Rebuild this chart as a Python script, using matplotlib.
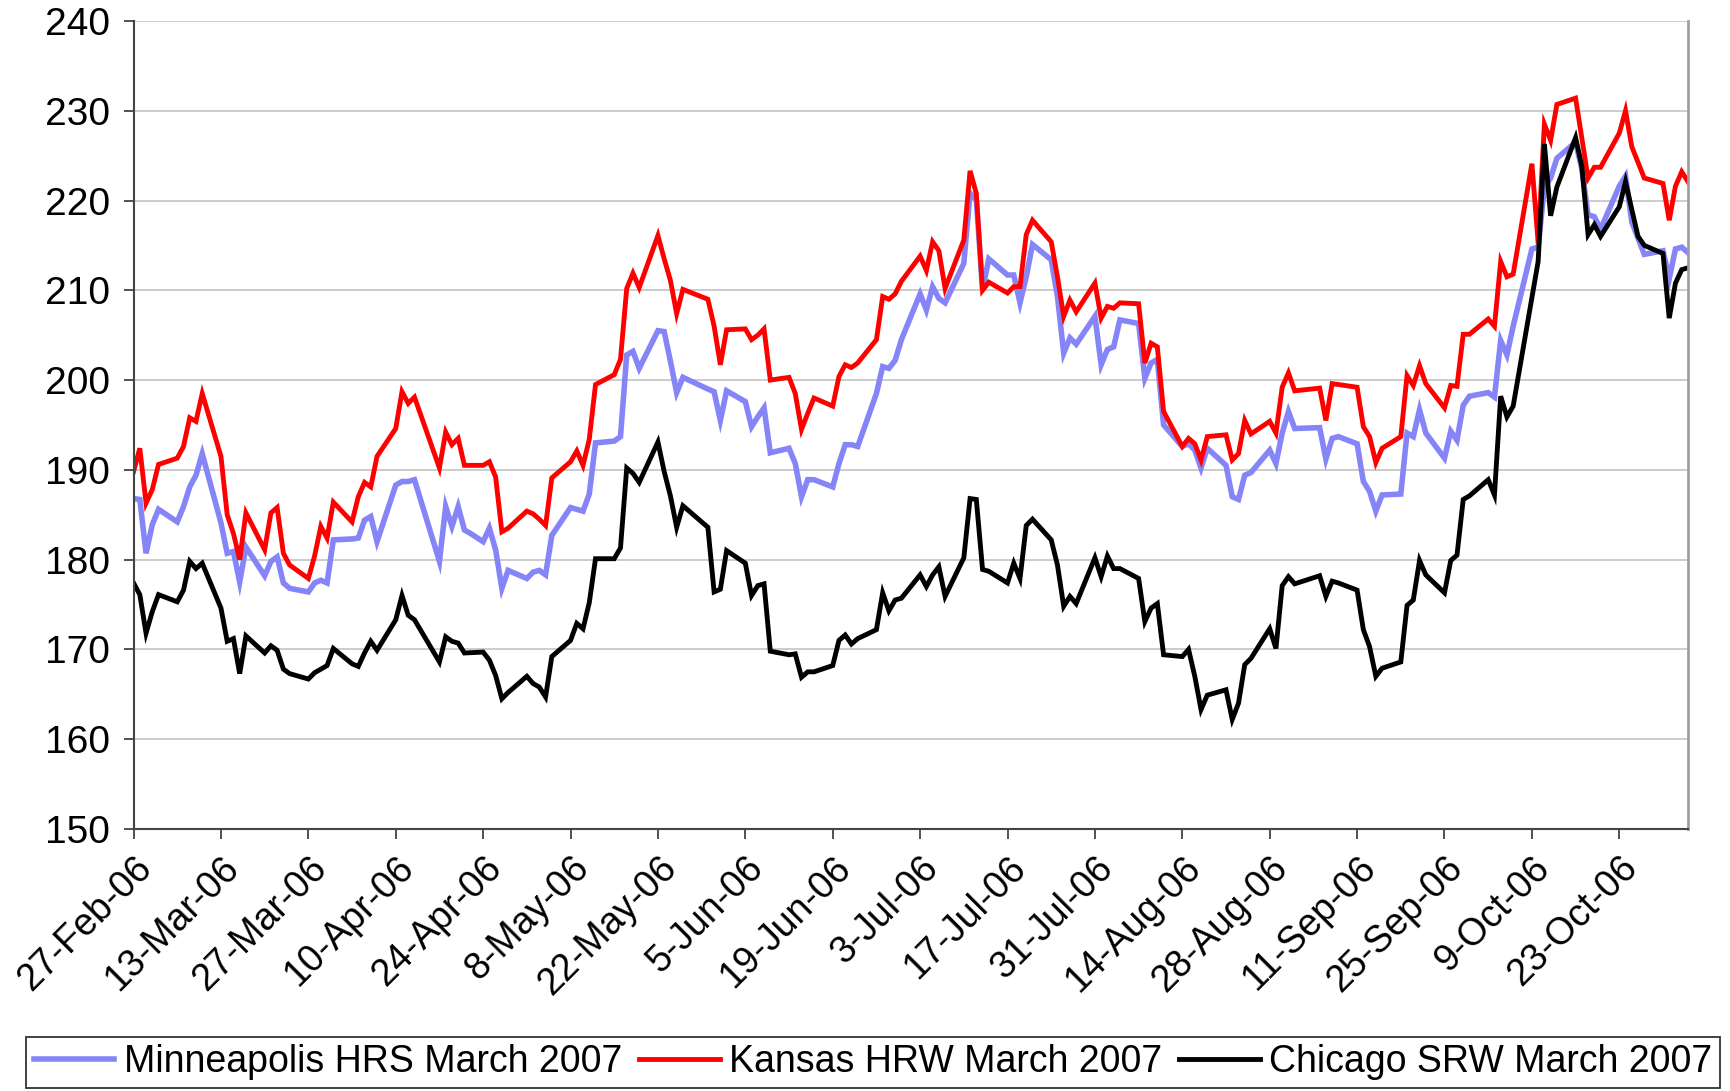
import numpy as np
import matplotlib
matplotlib.use("Agg")
import matplotlib.pyplot as plt
import matplotlib.dates as mdates

plt.rcParams['font.family'] = ['Liberation Sans', 'DejaVu Sans']

start = np.datetime64('2006-02-27')

# Kansas HRW March 2007 (days after 27-Feb-06, value)
ks_days = [0, 1, 2, 3, 4, 7, 8, 9, 10, 11, 14, 15, 16, 17, 18, 21, 22, 23, 24, 25,
           28, 29, 30, 31, 32, 35, 36, 37, 38, 39, 42, 43, 44, 45, 49, 50, 51, 52, 53, 56,
           57, 58, 59, 60, 63, 64, 65, 66, 67, 70, 71, 72, 73, 74, 77, 78, 79, 80, 81, 84,
           85, 86, 87, 88, 92, 93, 94, 95, 98, 99, 100, 101, 102, 105, 106, 107, 108, 109, 112, 113,
           114, 115, 116, 119, 120, 121, 122, 123, 126, 127, 128, 129, 130, 133, 134, 135, 136, 137, 140, 141,
           142, 143, 144, 147, 148, 149, 150, 151, 154, 155, 156, 157, 158, 161, 162, 163, 164, 165, 168, 169,
           170, 171, 172, 175, 176, 177, 178, 179, 182, 183, 184, 185, 186, 190, 191, 192, 196, 197, 198, 199,
           200, 203, 204, 205, 206, 207, 210, 211, 212, 213, 214, 217, 218, 219, 220, 221, 224, 225, 226, 227,
           228, 231, 233, 234, 235, 238, 239, 240, 242, 245, 246, 247, 248, 249]
ks_vals = [189.8, 192.4, 186.3, 187.8, 190.6, 191.3, 192.6, 195.8, 195.4, 198.5, 191.5, 185.0, 182.9, 180.0, 185.2, 181.1, 185.2, 185.8, 180.7, 179.4,
           177.9, 180.4, 183.7, 182.4, 186.4, 184.2, 187.0, 188.6, 188.1, 191.5, 194.6, 198.7, 197.4, 198.1, 190.2, 194.2, 192.8, 193.5, 190.5, 190.5,
           190.9, 189.2, 183.1, 183.5, 185.4, 185.1, 184.5, 183.8, 189.1, 190.9, 192.1, 190.5, 193.4, 199.5, 200.6, 202.3, 210.2, 211.9, 210.3, 216.1,
           213.5, 211.1, 207.4, 210.1, 209.0, 206.0, 201.7, 205.6, 205.7, 204.5, 205.0, 205.7, 200.0, 200.3, 198.5, 194.5, 196.3, 198.0, 197.1, 200.4,
           201.7, 201.4, 201.9, 204.5, 209.3, 209.0, 209.6, 211.0, 213.8, 212.2, 215.4, 214.4, 210.2, 215.6, 223.3, 220.8, 210.0, 210.9, 209.7, 210.4,
           210.4, 216.2, 217.8, 215.4, 211.5, 207.1, 208.9, 207.6, 210.8, 206.9, 208.2, 208.0, 208.6, 208.5, 201.9, 204.1, 203.7, 196.5, 192.6, 193.5,
           192.9, 191.1, 193.7, 193.9, 191.1, 191.8, 195.5, 194.0, 195.4, 194.1, 199.2, 200.8, 198.8, 199.1, 195.5, 199.6, 199.2, 194.8, 193.7, 190.8,
           192.4, 193.7, 200.5, 199.4, 201.6, 199.6, 196.9, 199.4, 199.3, 205.1, 205.1, 206.8, 206.0, 213.2, 211.5, 211.8, 224.1, 215.3, 228.5, 226.7,
           230.7, 231.4, 222.5, 223.7, 223.7, 227.5, 230.0, 226.0, 222.5, 221.9, 217.8, 221.6, 223.2, 222.1]

# Minneapolis HRS March 2007
mn_days = [0, 1, 2, 3, 4, 7, 8, 9, 10, 11, 14, 15, 16, 17, 18, 21, 22, 23, 24, 25,
           28, 29, 30, 31, 32, 35, 36, 37, 38, 39, 42, 43, 44, 45, 49, 50, 51, 52, 53, 54,
           56, 57, 58, 59, 60, 63, 64, 65, 66, 67, 70, 71, 72, 73, 74, 77, 78, 79, 80, 81,
           84, 85, 86, 87, 88, 92, 93, 94, 95, 98, 99, 100, 101, 102, 105, 106, 107, 108, 109, 112,
           113, 114, 115, 116, 119, 120, 121, 122, 123, 126, 127, 128, 129, 130, 133, 134, 135, 136, 137, 140,
           141, 142, 143, 144, 147, 148, 149, 150, 151, 154, 155, 156, 157, 158, 161, 162, 163, 164, 165, 168,
           169, 170, 171, 172, 175, 176, 177, 178, 179, 182, 183, 184, 185, 186, 190, 191, 192, 193, 196, 197,
           198, 199, 200, 203, 204, 205, 206, 207, 210, 211, 212, 213, 214, 217, 218, 219, 220, 221, 224, 225,
           226, 227, 228, 231, 232, 233, 234, 235, 238, 239, 240, 242, 245, 246, 247, 248, 249]
mn_vals = [186.8, 186.7, 180.7, 183.9, 185.6, 184.2, 185.9, 188.1, 189.4, 191.8, 184.1, 180.7, 180.9, 177.5, 181.4, 178.2, 179.8, 180.3, 177.4, 176.8,
           176.4, 177.4, 177.7, 177.4, 182.2, 182.3, 182.4, 184.4, 184.8, 182.0, 188.3, 188.7, 188.7, 188.9, 179.8, 185.9, 183.7, 185.9, 183.3, 182.9,
           182.0, 183.5, 181.1, 176.8, 178.8, 177.9, 178.6, 178.8, 178.3, 182.7, 185.8, 185.6, 185.4, 187.3, 193.0, 193.2, 193.7, 202.8, 203.2, 201.3,
           205.5, 205.4, 202.1, 198.6, 200.3, 199.0, 198.7, 195.5, 198.8, 197.6, 194.8, 195.9, 196.9, 191.9, 192.4, 190.7, 187.0, 188.9, 188.9, 188.1,
           190.7, 192.8, 192.8, 192.6, 198.5, 201.5, 201.3, 202.2, 204.5, 209.6, 207.8, 210.4, 209.1, 208.6, 213.0, 220.8, 220.1, 210.0, 213.5, 211.7,
           211.7, 208.6, 211.5, 215.1, 213.4, 209.3, 203.0, 204.7, 204.0, 207.1, 201.7, 203.4, 203.7, 206.7, 206.3, 200.2, 201.9, 202.3, 195.0, 192.6,
           192.9, 192.2, 190.2, 192.4, 190.5, 187.0, 186.7, 189.4, 189.7, 192.2, 190.7, 194.1, 196.5, 194.6, 194.7, 191.2, 193.5, 193.7, 192.9, 188.7,
           187.6, 185.4, 187.2, 187.3, 194.1, 193.7, 196.7, 194.1, 191.3, 194.3, 193.3, 197.2, 198.2, 198.6, 198.1, 204.4, 202.8, 206.0, 214.6, 214.8,
           221.5, 222.5, 224.7, 226.5, 223.5, 218.4, 218.2, 216.8, 221.6, 222.7, 217.6, 214.0, 214.4, 211.3, 214.6, 214.8, 214.2]

# Chicago SRW March 2007
ch_days = [0, 1, 2, 3, 4, 7, 8, 9, 10, 11, 14, 15, 16, 17, 18, 21, 22, 23, 24, 25,
           28, 29, 30, 31, 32, 35, 36, 37, 38, 39, 42, 43, 44, 45, 49, 50, 51, 52, 53, 56,
           57, 58, 59, 60, 63, 64, 65, 66, 67, 70, 71, 72, 73, 74, 77, 78, 79, 80, 81, 84,
           85, 86, 87, 88, 92, 93, 94, 95, 98, 99, 100, 101, 102, 105, 106, 107, 108, 109, 112, 113,
           114, 115, 116, 119, 120, 121, 122, 123, 126, 127, 128, 129, 130, 133, 134, 135, 136, 137, 140, 141,
           142, 143, 144, 147, 148, 149, 150, 151, 154, 155, 156, 157, 158, 161, 162, 163, 164, 165, 168, 169,
           170, 171, 172, 175, 176, 177, 178, 179, 182, 183, 184, 185, 186, 190, 191, 192, 193, 196, 197, 198,
           199, 200, 203, 204, 205, 206, 207, 210, 211, 212, 213, 214, 217, 218, 219, 220, 221, 225, 226, 227,
           228, 231, 232, 233, 234, 235, 238, 239, 240, 241, 242, 245, 246, 247, 248, 249]
ch_vals = [177.4, 176.1, 171.8, 174.2, 176.1, 175.3, 176.6, 179.8, 179.0, 179.6, 174.6, 170.9, 171.2, 167.3, 171.5, 169.6, 170.4, 169.9, 167.8, 167.3,
           166.7, 167.4, 167.8, 168.2, 170.1, 168.4, 168.1, 169.6, 170.9, 169.9, 173.3, 176.0, 173.8, 173.3, 168.6, 171.4, 170.9, 170.7, 169.6, 169.7,
           168.8, 167.1, 164.5, 165.2, 167.0, 166.2, 165.8, 164.7, 169.2, 171.0, 172.9, 172.3, 175.2, 180.1, 180.1, 181.3, 190.2, 189.6, 188.6, 193.1,
           189.8, 187.1, 183.6, 186.0, 183.6, 176.4, 176.7, 181.0, 179.6, 176.0, 177.1, 177.3, 169.8, 169.4, 169.5, 166.9, 167.5, 167.5, 168.2, 171.0,
           171.6, 170.6, 171.2, 172.2, 176.3, 174.3, 175.5, 175.7, 178.3, 177.0, 178.3, 179.2, 175.9, 180.2, 186.8, 186.7, 178.9, 178.7, 177.4, 179.6,
           177.9, 183.8, 184.5, 182.2, 179.4, 174.8, 175.9, 175.1, 180.2, 178.1, 180.4, 179.0, 179.0, 177.9, 173.1, 174.6, 175.1, 169.4, 169.2, 170.0,
           167.0, 163.3, 164.9, 165.5, 162.2, 164.0, 168.3, 169.0, 172.3, 170.1, 177.1, 178.1, 177.3, 178.2, 175.9, 177.6, 177.4, 176.6, 172.2, 170.3,
           167.0, 167.9, 168.6, 174.9, 175.5, 179.9, 178.3, 176.3, 179.9, 180.5, 186.7, 187.1, 188.9, 187.2, 198.2, 195.9, 197.1, 213.2, 226.3, 218.3,
           221.5, 227.0, 223.8, 216.2, 217.3, 216.0, 219.3, 222.1, 219.0, 216.0, 215.0, 214.1, 206.9, 210.8, 212.3, 212.5]

series_names = ['Minneapolis HRS March 2007', 'Kansas HRW March 2007', 'Chicago SRW March 2007']
y_ticks = list(range(150, 241, 10))
tick_step_days = 14
end_day = 249


def to_dates(days):
    return (start + np.array(days, dtype='timedelta64[D]')).astype('datetime64[D]').astype(object)


fig = plt.figure(figsize=(17.3, 10.91), dpi=100)
ax = fig.add_axes([0.0772, 0.2402, 0.8985, 0.7406])

ax.plot(to_dates(mn_days), mn_vals, color='#8585F8', lw=4.0, label=series_names[0], solid_joinstyle='miter')
ax.plot(to_dates(ks_days), ks_vals, color='#FF0000', lw=3.5, label=series_names[1], solid_joinstyle='miter')
ax.plot(to_dates(ch_days), ch_vals, color='#000000', lw=3.5, label=series_names[2], solid_joinstyle='miter')

ax.set_ylim(150, 240)
ax.set_yticks(y_ticks)
ax.set_xlim(to_dates([0])[0], to_dates([end_day])[0])
tick_dates = to_dates(list(range(0, end_day, tick_step_days)))
ax.set_xticks(mdates.date2num(tick_dates))
ax.set_xticklabels([d.strftime('%d-%b-%y').lstrip('0') for d in tick_dates],
                   rotation=45, ha='right', rotation_mode='anchor')

ax.grid(axis='y', color='#C8C8C8', lw=1.3)
ax.set_axisbelow(True)
for s in ['left', 'bottom']:
    ax.spines[s].set_color('#444444')
    ax.spines[s].set_linewidth(1.5)
for s in ['top', 'right']:
    ax.spines[s].set_color('#A0A0A0')
    ax.spines[s].set_linewidth(2.0)
ax.spines['top'].set_visible(False)

ax.tick_params(axis='y', labelsize=28, length=7, width=1.3, color='#444444', pad=10)
ax.tick_params(axis='x', labelsize=27, length=7, width=1.3, color='#444444', pad=8)

leg = fig.legend(loc='lower center', bbox_to_anchor=(0.5046, 0.003), ncol=3, fontsize=27,
                 frameon=True, fancybox=False, handlelength=2.15, handletextpad=0.25,
                 columnspacing=0.45, borderpad=0.2, borderaxespad=0)
leg.get_frame().set_edgecolor('black')
leg.get_frame().set_linewidth(1.3)

fig.savefig('out.png', dpi=100)
